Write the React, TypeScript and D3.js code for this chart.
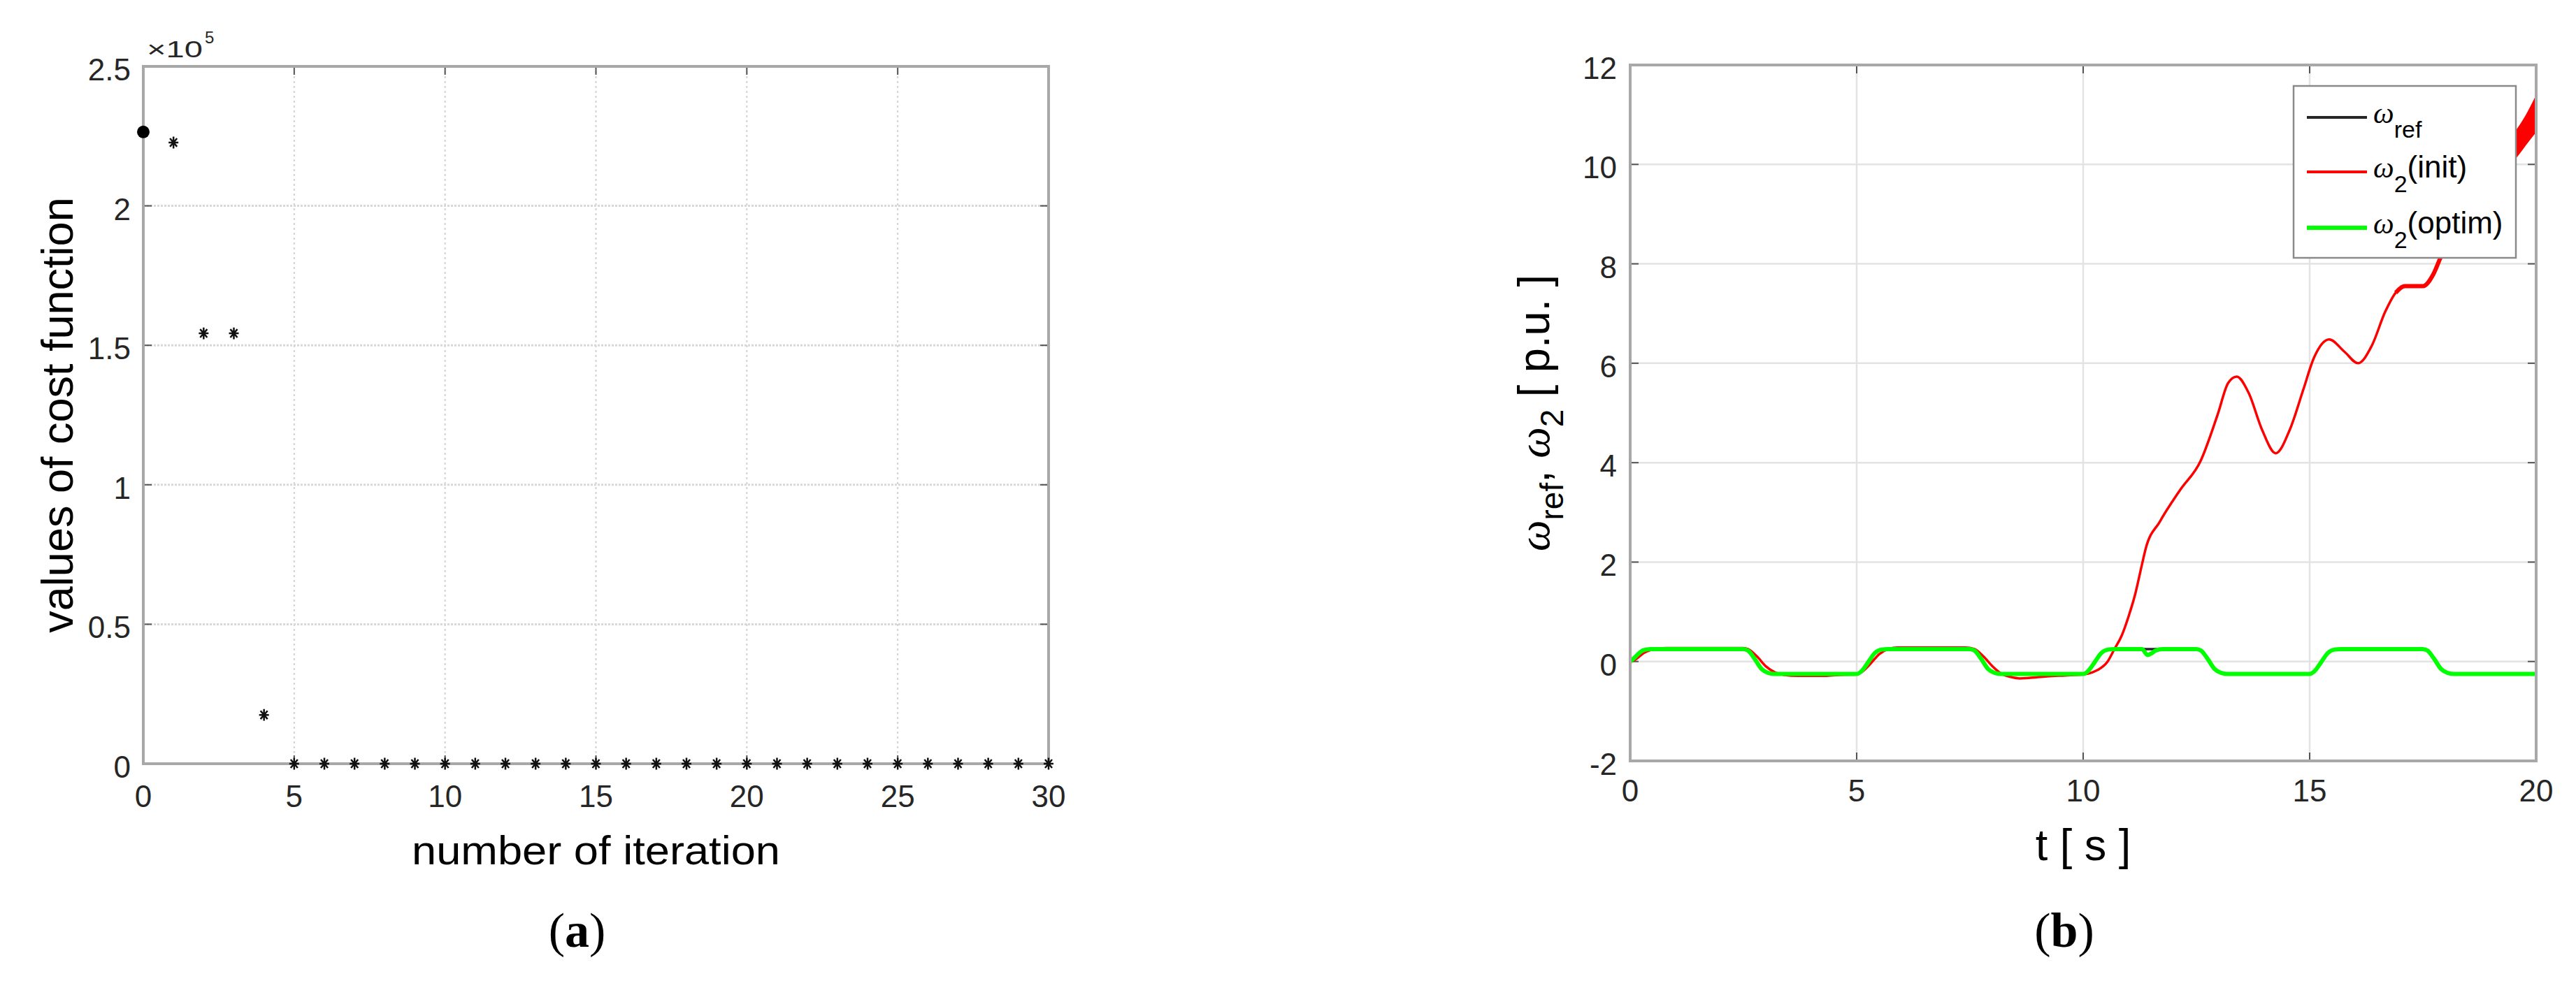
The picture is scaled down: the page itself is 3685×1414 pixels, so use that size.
import React from "react";
import * as d3 from "d3";

// ---------- panel (a) data ----------
const iterations = [0, 1, 2, 3, 4, 5, 6, 7, 8, 9, 10, 11, 12, 13, 14, 15, 16, 17, 18, 19, 20, 21, 22, 23, 24, 25, 26, 27, 28, 29, 30];
// values of cost function in units of 1e5
const costValues = [2.265, 2.227, 1.543, 1.543, 0.175, 0, 0, 0, 0, 0, 0, 0, 0, 0, 0, 0, 0, 0, 0, 0, 0, 0, 0, 0, 0, 0, 0, 0, 0, 0, 0];
const costXTicks = [0, 5, 10, 15, 20, 25, 30];
const costYTicks = [0, 0.5, 1, 1.5, 2, 2.5];
const costYTickLabels = ["0", "0.5", "1", "1.5", "2", "2.5"];

// ---------- panel (b) data ----------
const speedXTicks = [0, 5, 10, 15, 20];
const speedYTicks = [-2, 0, 2, 4, 6, 8, 10, 12];

const refTime = [0, 0.1, 0.2, 0.3, 0.45, 0.6, 2.5, 2.6, 2.75, 2.9, 3.05, 3.25, 3.4, 5.0, 5.1, 5.25, 5.4, 5.55, 5.7, 7.5, 7.6, 7.75, 7.9, 8.05, 8.25, 8.4, 10.0, 10.1, 10.25, 10.4, 10.55, 10.7, 12.5, 12.6, 12.75, 12.9, 13.05, 13.25, 13.4, 15.0, 15.1, 15.25, 15.4, 15.55, 15.7, 17.5, 17.6, 17.75, 17.9, 18.05, 18.25, 18.4, 20];
const refValues = [0, 0.08, 0.17, 0.23, 0.25, 0.25, 0.25, 0.22, 0.05, -0.15, -0.23, -0.25, -0.25, -0.25, -0.2, -0.02, 0.17, 0.24, 0.25, 0.25, 0.22, 0.05, -0.15, -0.23, -0.25, -0.25, -0.25, -0.2, -0.02, 0.17, 0.24, 0.25, 0.25, 0.22, 0.05, -0.15, -0.23, -0.25, -0.25, -0.25, -0.2, -0.02, 0.17, 0.24, 0.25, 0.25, 0.22, 0.05, -0.15, -0.23, -0.25, -0.25, -0.25];

const optimTime = [0, 0.1, 0.2, 0.3, 0.45, 0.6, 2.5, 2.6, 2.75, 2.9, 3.05, 3.2, 3.4, 5.0, 5.1, 5.25, 5.4, 5.55, 5.7, 7.5, 7.6, 7.75, 7.9, 8.05, 8.2, 8.4, 10.0, 10.1, 10.25, 10.4, 10.55, 10.7, 11.3, 11.42, 11.5, 11.6, 11.75, 12.5, 12.6, 12.75, 12.9, 13.05, 13.2, 13.4, 15.0, 15.1, 15.25, 15.4, 15.55, 15.7, 17.5, 17.6, 17.75, 17.9, 18.05, 18.2, 18.4, 20];
const optimValues = [0, 0.08, 0.17, 0.23, 0.25, 0.25, 0.25, 0.22, 0.05, -0.15, -0.23, -0.25, -0.25, -0.25, -0.2, -0.02, 0.17, 0.24, 0.25, 0.25, 0.22, 0.05, -0.15, -0.23, -0.25, -0.25, -0.25, -0.2, -0.02, 0.17, 0.24, 0.25, 0.25, 0.13, 0.16, 0.22, 0.25, 0.25, 0.22, 0.05, -0.15, -0.23, -0.25, -0.25, -0.25, -0.2, -0.02, 0.17, 0.24, 0.25, 0.25, 0.22, 0.05, -0.15, -0.23, -0.25, -0.25, -0.25];

const initTime = [0, 0.1, 0.2, 0.3, 0.45, 0.6, 0.8, 2.5, 2.6, 2.8, 3.0, 3.2, 3.4, 3.7, 4.3, 4.6, 5.0, 5.1, 5.3, 5.5, 5.7, 5.9, 7.4, 7.6, 7.8, 8.0, 8.2, 8.4, 8.6, 8.8, 9.2, 9.6, 10.0, 10.2, 10.32, 10.54, 10.69, 10.85, 11.0, 11.15, 11.3, 11.38, 11.69, 12.14, 12.59, 12.97, 13.2, 13.39, 13.65, 13.95, 14.25, 14.56, 14.86, 15.09, 15.43, 15.77, 16.07, 16.37, 16.67, 16.9, 17.1, 17.5, 17.73, 17.9, 18.5, 19.0, 19.55, 20];
const initValues = [0, 0.03, 0.1, 0.17, 0.23, 0.26, 0.27, 0.27, 0.25, 0.1, -0.1, -0.22, -0.27, -0.29, -0.29, -0.27, -0.26, -0.22, -0.05, 0.15, 0.25, 0.28, 0.28, 0.25, 0.1, -0.1, -0.25, -0.31, -0.34, -0.33, -0.3, -0.28, -0.26, -0.22, -0.17, 0.0, 0.25, 0.52, 0.9, 1.36, 1.96, 2.27, 2.81, 3.45, 4.03, 4.97, 5.6, 5.73, 5.41, 4.66, 4.19, 4.66, 5.47, 6.1, 6.48, 6.23, 6.0, 6.35, 7.04, 7.42, 7.55, 7.55, 7.79, 8.15, 9.0, 9.7, 10.4, 11.0];

// oscillation envelope of ω2(init) at the end of the run
const bandTime = [19.3, 19.55, 19.8, 20];
const bandLow = [9.9, 10.15, 10.45, 10.68];
const bandHigh = [10.4, 10.65, 11.0, 11.35];

const legendMain = ["ω", "ω", "ω"];
const legendSub = ["ref", "2", "2"];
const legendTail = ["", "(init)", "(optim)"];
const seriesColors = ["#262626", "#ff0000", "#00ff00"];

const SANS = "'Liberation Sans', Arial, Helvetica, sans-serif";
const SERIF = "'Liberation Serif', 'Times New Roman', serif";
const TICK_COLOR = "#262626";

export default function App() {
  const W = 3685;
  const H = 1414;
  const L = { x0: 205, x1: 1500, y0: 95, y1: 1093 };
  const R = { x0: 2332, x1: 3628, y0: 93, y1: 1089 };

  const xa = d3.scaleLinear().domain([0, 30]).range([L.x0, L.x1]);
  const ya = d3.scaleLinear().domain([0, 2.5]).range([L.y1, L.y0]);
  const xb = d3.scaleLinear().domain([0, 20]).range([R.x0, R.x1]);
  const yb = d3.scaleLinear().domain([-2, 12]).range([R.y1, R.y0]);

  const mkLine = (ts: number[], vs: number[]) =>
    d3
      .line<number>()
      .x((_, i) => xb(ts[i]))
      .y((d) => yb(d))
      .curve(d3.curveMonotoneX)(vs) || "";

  const tailIdx = initTime.findIndex((t) => t >= 16.8);
  const tailTime = initTime.slice(tailIdx);
  const tailValues = initValues.slice(tailIdx);

  const bandPath =
    d3
      .area<number>()
      .x((_, i) => xb(bandTime[i]))
      .y0((_, i) => yb(bandLow[i]))
      .y1((d) => yb(d))
      .curve(d3.curveMonotoneX)(bandHigh) || "";

  const star = (s: number) =>
    `M${-s},0H${s}M0,${-s * 1.2}V${s * 1.2}M${-s * 0.72},${-s * 0.85}L${s * 0.72},${s * 0.85}M${-s * 0.72},${s * 0.85}L${s * 0.72},${-s * 0.85}`;

  const tickLen = 12;
  const legend = { x0: 3281, x1: 3599, y0: 123, y1: 369, lineX0: 3300, lineX1: 3386, textX: 3395, rowY: [168, 246, 326] };

  return (
    <svg
      width={W}
      height={H}
      viewBox={`0 0 ${W} ${H}`}
      style={{ position: "absolute", left: 0, top: 0, background: "#ffffff" }}
    >
      <rect x={0} y={0} width={W} height={H} fill="#ffffff" />
      <defs>
        <clipPath id="clipB">
          <rect x={R.x0} y={R.y0} width={R.x1 - R.x0} height={R.y1 - R.y0} />
        </clipPath>
      </defs>

      {/* ================= panel (a) ================= */}
      <g>
        {costXTicks.slice(1, -1).map((t) => (
          <line key={"gxa" + t} x1={xa(t)} x2={xa(t)} y1={L.y0} y2={L.y1} stroke="#d2d2d2" strokeWidth={2} strokeDasharray="3,4" />
        ))}
        {costYTicks.slice(1, -1).map((t) => (
          <line key={"gya" + t} x1={L.x0} x2={L.x1} y1={ya(t)} y2={ya(t)} stroke="#d8d8d8" strokeWidth={3} strokeDasharray="3,2" />
        ))}
        {costXTicks.map((t) => (
          <g key={"txa" + t}>
            <line x1={xa(t)} x2={xa(t)} y1={L.y1} y2={L.y1 - tickLen} stroke="#555" strokeWidth={2} />
            <line x1={xa(t)} x2={xa(t)} y1={L.y0} y2={L.y0 + tickLen} stroke="#555" strokeWidth={2} />
          </g>
        ))}
        {costYTicks.map((t) => (
          <g key={"tya" + t}>
            <line x1={L.x0} x2={L.x0 + tickLen} y1={ya(t)} y2={ya(t)} stroke="#555" strokeWidth={2} />
            <line x1={L.x1} x2={L.x1 - tickLen} y1={ya(t)} y2={ya(t)} stroke="#555" strokeWidth={2} />
          </g>
        ))}
        <rect x={L.x0} y={L.y0} width={L.x1 - L.x0} height={L.y1 - L.y0} fill="none" stroke="#a8a8a8" strokeWidth={4} />

        {iterations.map((it, i) =>
          i === 0 ? (
            <circle key={"pt" + it} cx={xa(it)} cy={ya(costValues[i])} r={9} fill="#000" />
          ) : (
            <path
              key={"pt" + it}
              d={star(7)}
              transform={`translate(${xa(it)},${ya(costValues[i])})`}
              stroke="#111"
              strokeWidth={2.5}
              fill="none"
            />
          )
        )}

        {costXTicks.map((t) => (
          <text key={"lxa" + t} x={xa(t)} y={L.y1 + 62} fontFamily={SANS} fontSize={44} fill={TICK_COLOR} textAnchor="middle">
            {t}
          </text>
        ))}
        {costYTicks.map((t, i) => (
          <text key={"lya" + t} x={L.x0 - 18} y={ya(t) + 20} fontFamily={SANS} fontSize={44} fill={TICK_COLOR} textAnchor="end">
            {costYTickLabels[i]}
          </text>
        ))}
        <text x={L.x0 + 5} y={L.y0 - 13} fontFamily={SANS} fontSize={34} fill={TICK_COLOR} textLength={80} lengthAdjust="spacingAndGlyphs">
          ×10
        </text>
        <text x={L.x0 + 88} y={L.y0 - 33} fontFamily={SANS} fontSize={24} fill={TICK_COLOR}>
          5
        </text>

        <text
          x={(L.x0 + L.x1) / 2}
          y={1237}
          fontFamily={SANS}
          fontSize={58}
          fill="#000"
          textAnchor="middle"
          textLength={527}
          lengthAdjust="spacingAndGlyphs"
        >
          number of iteration
        </text>
        <text
          transform={`translate(104,${(L.y0 + L.y1) / 2}) rotate(-90)`}
          fontFamily={SANS}
          fontSize={63}
          fill="#000"
          textAnchor="middle"
        >
          values of cost function
        </text>

        <text x={(L.x0 + L.x1) / 2 - 27} y={1355} fontFamily={SERIF} fontSize={70} fill="#000" textAnchor="middle">
          (<tspan fontWeight="bold">a</tspan>)
        </text>
      </g>

      {/* ================= panel (b) ================= */}
      <g>
        {speedXTicks.slice(1, -1).map((t) => (
          <line key={"gxb" + t} x1={xb(t)} x2={xb(t)} y1={R.y0} y2={R.y1} stroke="#e3e3e3" strokeWidth={2.5} />
        ))}
        {speedYTicks.slice(1, -1).map((t) => (
          <line key={"gyb" + t} x1={R.x0} x2={R.x1} y1={yb(t)} y2={yb(t)} stroke="#e3e3e3" strokeWidth={2.5} />
        ))}
        {speedXTicks.map((t) => (
          <g key={"txb" + t}>
            <line x1={xb(t)} x2={xb(t)} y1={R.y1} y2={R.y1 - tickLen} stroke="#555" strokeWidth={2} />
            <line x1={xb(t)} x2={xb(t)} y1={R.y0} y2={R.y0 + tickLen} stroke="#555" strokeWidth={2} />
          </g>
        ))}
        {speedYTicks.map((t) => (
          <g key={"tyb" + t}>
            <line x1={R.x0} x2={R.x0 + tickLen} y1={yb(t)} y2={yb(t)} stroke="#555" strokeWidth={2} />
            <line x1={R.x1} x2={R.x1 - tickLen} y1={yb(t)} y2={yb(t)} stroke="#555" strokeWidth={2} />
          </g>
        ))}

        <g clipPath="url(#clipB)">
          <path d={mkLine(refTime, refValues)} fill="none" stroke={seriesColors[0]} strokeWidth={3.5} />
          <path d={mkLine(initTime, initValues)} fill="none" stroke={seriesColors[1]} strokeWidth={3.5} />
          <path d={mkLine(tailTime, tailValues)} fill="none" stroke={seriesColors[1]} strokeWidth={6} />
          <path d={bandPath} fill={seriesColors[1]} stroke={seriesColors[1]} strokeWidth={3} />
          <path d={mkLine(optimTime, optimValues)} fill="none" stroke={seriesColors[2]} strokeWidth={6} />
        </g>

        <rect x={R.x0} y={R.y0} width={R.x1 - R.x0} height={R.y1 - R.y0} fill="none" stroke="#a8a8a8" strokeWidth={4} />

        {speedXTicks.map((t) => (
          <text key={"lxb" + t} x={xb(t)} y={R.y1 + 58} fontFamily={SANS} fontSize={44} fill={TICK_COLOR} textAnchor="middle">
            {t}
          </text>
        ))}
        {speedYTicks.map((t) => (
          <text key={"lyb" + t} x={R.x0 - 19} y={yb(t) + 20} fontFamily={SANS} fontSize={44} fill={TICK_COLOR} textAnchor="end">
            {t}
          </text>
        ))}

        <rect
          x={legend.x0}
          y={legend.y0}
          width={legend.x1 - legend.x0}
          height={legend.y1 - legend.y0}
          fill="#ffffff"
          stroke="#8a8a8a"
          strokeWidth={2.5}
        />
        {legendMain.map((m, i) => (
          <g key={"leg" + i}>
            <line
              x1={legend.lineX0}
              x2={legend.lineX1}
              y1={legend.rowY[i]}
              y2={legend.rowY[i]}
              stroke={seriesColors[i]}
              strokeWidth={i === 2 ? 6 : 4}
            />
            <text x={legend.textX} y={legend.rowY[i] + 8} fontFamily={SANS} fontSize={44} fill="#000">
              <tspan fontStyle="italic" fontFamily={SERIF} fontSize={42}>
                {m}
              </tspan>
              <tspan fontSize={34} dy={21}>
                {legendSub[i]}
              </tspan>
              <tspan dy={-21}>{legendTail[i]}</tspan>
            </text>
          </g>
        ))}

        <text x={(R.x0 + R.x1) / 2} y={1231} fontFamily={SANS} fontSize={63} fill="#000" textAnchor="middle">
          t [ s ]
        </text>
        <text
          transform={`translate(2216,${(R.y0 + R.y1) / 2}) rotate(-90)`}
          fontFamily={SANS}
          fontSize={63}
          fill="#000"
          textAnchor="middle"
        >
          <tspan fontStyle="italic" fontFamily={SERIF}>ω</tspan>
          <tspan fontSize={46} dy={20}>ref</tspan>
          <tspan dy={-20}>, </tspan>
          <tspan fontStyle="italic" fontFamily={SERIF}>ω</tspan>
          <tspan fontSize={46} dy={20}>2</tspan>
          <tspan dy={-20}> [ p.u. ]</tspan>
        </text>

        <text x={(R.x0 + R.x1) / 2 - 27} y={1355} fontFamily={SERIF} fontSize={70} fill="#000" textAnchor="middle">
          (<tspan fontWeight="bold">b</tspan>)
        </text>
      </g>
    </svg>
  );
}
